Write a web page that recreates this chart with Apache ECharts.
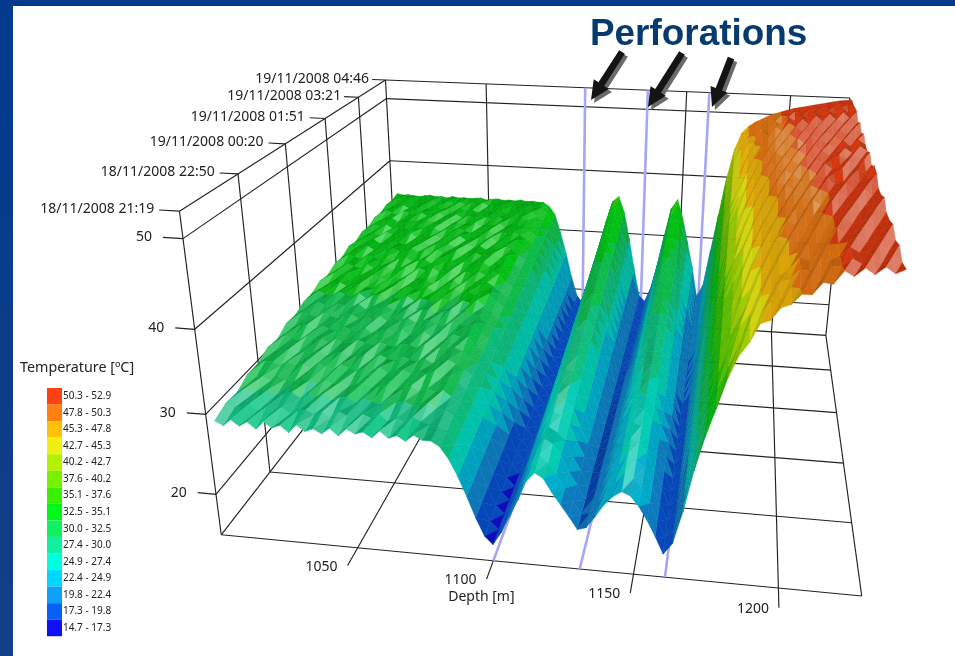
<!DOCTYPE html>
<html><head><meta charset="utf-8">
<style>html,body{margin:0;padding:0;background:#fff}#c{width:955px;height:656px}</style>
<script src="https://cdn.jsdelivr.net/npm/echarts@6/dist/echarts.min.js"></script>
</head><body><div id="c"></div>
<script>
// Axis ticks
const depthTicks=[1050,1100,1150,1200];
const timeLabels=['18/11/2008 21:19','18/11/2008 22:50','19/11/2008 00:20','19/11/2008 01:51','19/11/2008 03:21','19/11/2008 04:46'];
const timeTicks=[0,91,181,272,362,447]; // minutes after the first reading
const tempTicks=[20,30,40,50];
const perforations=[1100,1131,1161];
const depthRange=[998,1228];
const tempRange=[14.7,52.9];
const bandLabels=['14.7 - 17.3','17.3 - 19.8','19.8 - 22.4','22.4 - 24.9','24.9 - 27.4','27.4 - 30.0','30.0 - 32.5','32.5 - 35.1','35.1 - 37.6','37.6 - 40.2','40.2 - 42.7','42.7 - 45.3','45.3 - 47.8','47.8 - 50.3','50.3 - 52.9'];
const bandLimits=[14.7,17.3,19.8,22.4,24.9,27.4,30.0,32.5,35.1,37.6,40.2,42.7,45.3,47.8,50.3,52.9];
const bandColors=['#1010f8','#0860f8','#10a0f8','#00d8ff','#00ffe0','#10f0a0','#10f060','#00f818','#38f000','#78f000','#b4f000','#f0f010','#ffc008','#ff8010','#ff4010'];
// Surface samples, columns along depth (m), rows along time (min).
const depths=[1001,1004,1007,1010,1013,1016,1019,1022,1025,1028,1031,1034,1037,1040,1043,1046,1049,1052,1055,1058,1061,1064,1067,1070,1073,1076,1079,1082,1085,1088,1091,1094,1097,1100,1103,1106,1109,1112,1115,1118,1121,1124,1127,1130,1133,1136,1139,1142,1145,1148,1151,1154,1157,1160,1163,1166,1169,1172,1175,1178,1181,1184,1187,1190,1193,1196,1199,1202,1205,1208,1211,1214,1217,1220,1223,1226,1229];
const times=[0,19,39,58,78,97,117,136,156,175,194,214,233,253,272,292,311,330,350,369,389,408,428,447];
// Temperatures in tenths of a degree: the broad shape is read
// off the outline and colour bands; the fine roughness is a by-eye estimate, not a measurement.
const temp00=[293,288,296,289,295,287,297,290,294,286,296,289,293,288,295,287,296,291,294,288,297,289,293,287,295,290,290,284,270,250,226,200,178,168,184,205,226,250,262,256,240,226,212,197,200,214,230,241,248,244,232,216,197,176,190,230,280,320,353,387,412,427,448,452,466,470,481,481,494,493,507,502,511,505,513,507,512];
const temp01=[299,294,297,301,293,298,295,300,292,297,299,294,298,292,300,296,293,299,295,301,293,297,294,300,296,293,292,286,272,252,227,201,178,168,184,206,229,252,266,258,246,228,213,197,199,214,233,241,254,247,238,218,199,177,191,232,284,321,361,386,410,436,444,460,462,476,475,489,487,500,501,509,504,513,506,514,508];
const temp02=[298,303,297,301,304,298,300,303,296,302,299,304,297,301,303,296,302,299,296,304,300,302,298,300,303,297,295,289,275,254,229,202,179,169,185,208,233,254,270,264,251,231,215,197,199,214,234,245,259,253,243,222,202,178,193,235,287,325,366,391,419,432,452,456,469,473,484,483,496,495,500,510,505,507,514,508,515];
const temp03=[306,302,305,300,307,303,301,305,304,300,306,302,305,300,303,307,301,304,306,300,303,307,301,305,302,305,297,291,277,256,230,203,179,169,185,209,235,252,269,263,254,233,216,197,198,213,235,248,263,258,247,225,204,179,194,236,290,328,370,394,416,440,448,464,465,473,486,484,491,502,503,505,513,506,509,516,510];
const temp04=[306,310,309,305,311,307,309,304,311,308,305,312,308,306,310,307,312,305,309,311,306,310,308,312,305,308,299,293,279,258,232,203,180,169,186,210,237,255,273,268,258,236,217,197,198,213,235,250,266,263,251,228,206,180,195,238,292,332,373,397,425,437,456,459,473,476,481,491,490,497,509,504,506,514,508,510,517];
const temp05=[313,309,311,314,308,312,310,313,308,312,314,309,311,313,308,314,310,308,314,311,309,313,308,312,314,309,302,296,282,260,233,204,180,170,186,212,240,259,278,273,263,239,218,197,197,213,236,253,271,269,256,231,209,181,197,241,295,336,378,402,423,447,452,467,468,483,481,486,499,497,502,513,506,508,516,509,512];
const temp06=[311,316,313,311,317,314,315,311,316,313,312,317,314,312,316,313,311,316,315,312,317,311,315,313,316,312,304,298,284,262,235,205,181,170,187,213,242,262,281,278,267,242,219,196,196,213,237,255,275,273,259,234,211,182,198,243,298,339,381,405,431,442,461,463,477,475,490,488,493,505,503,505,514,509,509,518,511];
const temp07=[319,315,318,320,314,319,316,314,320,317,315,320,314,318,320,316,321,314,317,320,315,319,314,320,317,318,306,300,286,264,236,206,181,170,187,214,244,265,285,282,271,244,220,196,196,213,238,258,279,278,263,237,213,183,199,245,300,342,385,409,428,451,455,472,471,486,483,496,494,498,511,505,508,516,510,512,519];
const temp08=[318,322,320,317,323,320,317,322,324,318,321,319,324,317,322,320,324,318,321,323,319,317,323,320,318,322,309,303,289,266,238,207,182,171,188,216,247,269,290,288,275,247,222,196,195,213,239,261,284,284,268,241,216,184,200,247,303,346,389,413,438,446,465,465,480,480,491,489,502,497,504,514,507,510,518,511,513];
const temp09=[324,321,325,322,320,325,323,321,326,319,324,322,326,320,323,325,320,324,326,321,323,326,320,325,322,320,311,305,291,268,239,208,182,171,188,217,249,272,294,292,279,250,223,196,195,212,240,263,288,288,272,244,218,185,202,249,305,349,393,416,434,456,458,475,474,488,486,498,495,507,503,507,516,508,513,520,512];
const temp10=[324,328,325,323,329,326,324,329,322,327,329,323,326,324,329,323,327,325,323,329,326,323,328,325,330,322,313,307,294,269,241,209,182,171,189,218,251,275,298,296,283,253,224,196,194,212,241,265,292,293,276,247,220,186,203,251,308,352,397,420,445,451,469,467,484,482,494,491,503,499,513,506,509,518,510,514,521];
const temp11=[330,325,328,330,325,328,330,326,324,331,327,329,325,330,328,326,331,325,329,327,331,326,328,324,330,327,316,310,296,272,242,210,183,172,189,219,254,279,303,302,288,256,225,196,193,212,242,268,297,299,281,251,222,188,204,254,311,356,401,424,441,462,464,478,478,492,488,500,497,509,505,510,517,511,516,514,522];
const temp12=[327,331,328,332,326,330,328,332,329,325,331,328,332,326,330,329,325,331,327,331,326,332,329,327,331,326,318,312,299,273,244,210,183,172,190,221,256,282,307,306,291,258,227,196,193,212,242,271,300,303,285,253,225,188,206,256,314,360,405,427,451,456,474,473,489,485,499,493,506,501,514,508,513,519,512,521,515];
const temp13=[333,329,334,331,328,335,330,333,334,329,332,335,328,334,331,335,330,332,335,329,333,331,334,329,335,332,321,315,301,276,245,211,184,173,190,222,259,286,312,312,296,261,228,196,192,212,243,274,305,309,290,257,227,190,207,258,317,364,409,431,447,467,468,483,481,495,490,503,499,511,506,511,518,513,521,515,523];
const temp14=[332,336,334,331,337,335,332,336,331,335,337,332,334,336,331,337,333,335,332,336,334,333,337,331,335,334,323,317,304,277,247,212,184,173,191,223,261,289,316,316,300,264,229,196,191,211,244,276,309,314,294,260,229,191,208,260,320,367,413,435,458,461,479,477,491,488,501,496,508,503,516,509,514,520,514,523,517];
const temp15=[338,335,337,340,334,338,336,339,335,337,340,335,339,334,340,336,335,341,334,338,339,335,337,341,334,339,325,319,306,279,248,213,185,173,191,225,263,292,320,321,304,267,230,196,191,211,245,278,313,318,298,263,231,192,210,262,322,370,417,438,452,472,472,487,484,497,493,506,500,513,507,516,511,522,515,524,518];
const temp16=[335,339,336,340,334,337,339,336,334,339,337,340,335,338,336,340,335,337,341,336,339,334,338,336,340,337,328,322,309,282,250,214,185,174,192,226,266,296,325,326,309,270,232,196,190,211,246,281,318,324,303,267,234,193,211,265,325,374,421,443,464,466,483,480,496,490,503,499,509,505,517,510,520,513,524,517,525];
const temp17=[340,337,339,336,342,338,340,337,342,336,339,338,341,336,340,338,342,336,339,341,338,342,336,340,338,341,330,324,311,283,251,215,185,174,192,227,268,299,329,330,312,272,233,196,190,211,247,284,322,329,307,270,236,194,212,267,327,377,425,446,458,477,476,491,488,500,495,508,502,514,509,519,512,523,516,526,519];
const temp18=[338,342,339,343,337,341,340,337,343,340,338,342,337,341,339,343,340,337,342,340,343,338,341,339,342,338,332,326,313,285,253,216,186,174,193,228,270,302,332,335,316,275,234,195,189,211,248,286,326,333,310,273,238,195,213,269,330,380,428,449,470,471,486,485,498,493,506,500,512,506,519,512,522,515,525,518,526];
const temp19=[343,339,341,344,338,341,343,340,338,344,340,342,344,339,343,339,341,344,338,342,340,344,339,341,343,340,335,329,316,287,254,217,186,175,193,230,273,306,337,340,321,278,235,195,188,211,249,289,331,339,315,276,241,196,215,272,333,384,433,454,464,481,480,494,491,503,497,511,504,516,510,521,514,524,518,527,520];
const temp20=[341,345,342,339,346,343,341,345,340,344,346,341,343,345,340,344,342,346,343,340,345,342,343,340,346,342,337,331,318,289,256,217,187,175,194,231,275,309,341,345,325,281,236,195,188,210,249,291,334,344,319,279,243,197,216,274,335,388,436,457,474,477,490,489,501,496,508,503,514,507,520,513,523,516,526,519,528];
const temp21=[345,342,343,346,341,344,345,342,340,346,343,345,341,346,342,344,340,346,343,342,346,341,345,343,342,346,339,333,320,291,257,218,187,175,194,232,277,312,345,349,328,283,238,195,187,210,250,294,338,349,323,282,245,198,217,276,338,391,440,460,478,480,493,491,503,499,510,505,513,509,518,514,522,517,527,520,527];
const temp22=[343,346,344,347,342,345,344,346,342,345,347,343,346,342,346,344,347,342,345,344,347,343,345,344,346,344,342,336,323,293,259,219,188,176,195,234,280,316,350,355,333,286,239,195,187,210,251,297,343,354,328,286,248,199,219,278,340,395,444,465,480,485,490,495,499,505,504,511,510,512,517,516,521,520,526,524,525];
const temp23=[346,344,345,344,343,345,346,344,345,343,346,344,345,344,345,346,343,345,346,344,345,344,346,344,345,344,344,338,325,295,260,220,188,176,195,235,280,320,352,360,335,290,240,195,186,210,250,300,345,360,330,290,250,200,220,280,340,400,445,470,480,487,492,497,501,504,507,510,512,514,516,518,520,522,524,525,526];
const tempRows=[temp00,temp01,temp02,temp03,temp04,temp05,temp06,temp07,temp08,temp09,temp10,temp11,temp12,temp13,temp14,temp15,temp16,temp17,temp18,temp19,temp20,temp21,temp22,temp23];

const FONT='"Noto Sans"',INK='#222';
const D0=depthRange[0],D1=depthRange[1],Z0=tempRange[0],Z1=tempRange[1],T1=timeTicks[5];

// Camera: a projective map from (depth,time,temperature) to the page, fitted to where the box sits.
const view=[[D0,0,Z0,222,534],[D1,0,Z0,863,596],[D0,T1,Z0,399,312],[D1,T1,Z0,826,334],[D0,0,Z1,180,213],[D0,T1,Z1,386,79],[D1,T1,Z1,852,100],
[D0,91,Z0,268,472],[D0,91,Z1,238,175],[D0,181,Z1,286,143],[D0,272,Z1,325,118],[D0,362,Z1,360,97],
[D1,91,Z0,853,523],[D1,181,Z0,844,463],[D1,272,Z0,837,412],[D1,362,Z0,830,369],
[1050,0,Z0,357,547],[1100,0,Z0,492,561],[1150,0,Z0,633,574],[1200,0,Z0,778,588],
[1050,T1,Z1,485,83],[1100,T1,Z1,583,87.5],[1150,T1,Z1,686,92],[1200,T1,Z1,790,97],
[D0,0,20,217,493],[D0,0,30,206,414],[D0,0,40,193,330],[D0,0,50,183,240],[D0,T1,50,387,97],[D0,T1,40,390,159],[D1,T1,20,828,305]];
const nd=d=>(d-1100)/100, nt=t=>(t-220)/220, nz=z=>(z-34)/20;
function fit(){
  const n=11,A=[];for(let i=0;i<n;i++){A.push(new Array(n+1).fill(0));}
  const add=(r,b)=>{for(let i=0;i<n;i++){for(let j=0;j<n;j++)A[i][j]+=r[i]*r[j];A[i][n]+=r[i]*b;}};
  view.forEach(v=>{const X=nd(v[0]),Y=nt(v[1]),Z=nz(v[2]),u=v[3]/500,w=v[4]/500;
    add([X,Y,Z,1,0,0,0,0,-u*X,-u*Y,-u*Z],u);add([0,0,0,0,X,Y,Z,1,-w*X,-w*Y,-w*Z],w);});
  for(let i=0;i<n;i++){let p=i;for(let r=i+1;r<n;r++)if(Math.abs(A[r][i])>Math.abs(A[p][i]))p=r;
    [A[i],A[p]]=[A[p],A[i]];for(let r=0;r<n;r++){if(r===i)continue;const f=A[r][i]/A[i][i];for(let c=i;c<=n;c++)A[r][c]-=f*A[i][c];}}
  return A.map((r,i)=>r[n]/r[i]);
}
const M=fit();
function proj(d,t,z){const X=nd(d),Y=nt(t),Z=nz(z),w=M[8]*X+M[9]*Y+M[10]*Z+1;
  return [500*(M[0]*X+M[1]*Y+M[2]*Z+M[3])/w,500*(M[4]*X+M[5]*Y+M[6]*Z+M[7])/w,w];}

// Box, grid and tick lines: [d1,t1,z1,d2,t2,z2]
const frameLines=[];
const seg=(a,b,c,e,f,g)=>frameLines.push([a,b,c,e,f,g]);
timeTicks.forEach(t=>{seg(D0,t,Z0,D0,t,Z1);seg(D0,t,Z0,D1,t,Z0);seg(D0-7,t,Z1,D0,t,Z1);});
tempTicks.concat([Z1]).forEach(z=>{seg(D0,0,z,D0,T1,z);seg(D0,T1,z,D1,T1,z);});
tempTicks.forEach(z=>seg(D0-7,0,z,D0,0,z));
depthTicks.forEach(d=>{seg(d,-22,Z0,d,T1,Z0);seg(d,T1,Z0,d,T1,Z1);});
seg(D0,0,Z0,D0,T1,Z0);seg(D1,0,Z0,D1,T1,Z0);seg(D1,T1,Z0,D1,T1,Z1);
const perfLines=[];
perforations.forEach(d=>{perfLines.push([d,0,Z0,d,T1,Z0]);perfLines.push([d,T1,Z0,d,T1,Z1]);});

const lineItem=(style)=>(params,api)=>{
  const a=proj(api.value(0),api.value(1),api.value(2)),b=proj(api.value(3),api.value(4),api.value(5));
  const p=api.coord([a[0],a[1]]),q=api.coord([b[0],b[1]]);
  return {type:'line',shape:{x1:p[0],y1:p[1],x2:q[0],y2:q[1]},style};
};

// Tick labels: text, anchor and where it sits relative to the tick's outer end
const labelItems=[];
timeTicks.forEach((t,i)=>labelItems.push({text:timeLabels[i],at:[D0-7,t,Z1],dx:i>3?-3:-5,dy:-1}));
tempTicks.forEach(z=>labelItems.push({text:String(z),at:[D0-7,0,z],dx:-11,dy:0}));
depthTicks.forEach(d=>labelItems.push({text:String(d),at:[d,-22,Z0],dx:-10,dy:1}));
labelItems.push({text:'Depth [m]',at:[1100,-22,Z0],dx:28,dy:18});

// Surface triangles, painted farthest first
const nCol=Math.min(...tempRows.map(r=>r.length)),cells=[];
const zOf=(j,i)=>Math.min(Z1,Math.max(Z0,tempRows[j][i]/10));
for(let j=0;j<times.length-1;j++)for(let i=0;i<nCol-1;i++){
  const A=[i,j],B=[i+1,j],C=[i+1,j+1],E=[i,j+1];
  [[A,B,C],[A,C,E]].forEach(tri=>{
    const ps=tri.map(q=>[depths[q[0]],times[q[1]],zOf(q[1],q[0])]);
    const zm=(ps[0][2]+ps[1][2]+ps[2][2])/3;
    const w=ps.reduce((s,p)=>s+proj(p[0],p[1],p[2])[2],0);
    cells.push({v:[tri[0][0],tri[0][1],tri[1][0],tri[1][1],tri[2][0],tri[2][1],+zm.toFixed(2)],w});
  });
}
const sign=proj(1100,220,30)[2]>0?1:-1;
cells.sort((a,b)=>sign*(b.w-a.w));

function shade(ps,hex){
  const S=[2.6,0.55,5];
  const a=[(ps[1][0]-ps[0][0])*S[0],(ps[1][1]-ps[0][1])*S[1],(ps[1][2]-ps[0][2])*S[2]];
  const b=[(ps[2][0]-ps[0][0])*S[0],(ps[2][1]-ps[0][1])*S[1],(ps[2][2]-ps[0][2])*S[2]];
  let n=[a[1]*b[2]-a[2]*b[1],a[2]*b[0]-a[0]*b[2],a[0]*b[1]-a[1]*b[0]];
  const L=Math.hypot(n[0],n[1],n[2])||1;n=n.map(x=>x/L);if(n[2]<0)n=n.map(x=>-x);
  const l=[-0.25,-0.62,0.74],h=[0.34,-0.3,0.89];
  const dif=Math.max(0,n[0]*l[0]+n[1]*l[1]+n[2]*l[2]);
  const sp=Math.pow(Math.max(0,n[0]*h[0]+n[1]*h[1]+n[2]*h[2]),70)*0.4;
  const c=echarts.color.parse(hex);
  const warm=(c[0]/255)*(1-c[2]/255);
  const k=0.26+0.5*dif+(n[0]>0?n[0]*(0.45-0.3*warm):-n[0]*0.15)+0.1*warm;
  const mix=x=>Math.round(Math.min(255,x*k+(255-x*k)*sp));
  return 'rgb('+mix(c[0])+','+mix(c[1])+','+mix(c[2])+')';
}

function arrow(x0,y0,x1,y1,dx,dy,fill){
  const L=Math.hypot(x1-x0,y1-y0),u=(x1-x0)/L,v=(y1-y0)/L,s=3.4,hw=9,hl=19;
  const bx=x1-u*hl,by=y1-v*hl;
  const pts=[[x0-v*s,y0+u*s],[bx-v*s,by+u*s],[bx-v*hw,by+u*hw],[x1,y1],[bx+v*hw,by-u*hw],[bx+v*s,by-u*s],[x0+v*s,y0-u*s]];
  return {type:'polygon',z:50,silent:true,shape:{points:pts.map(p=>[p[0]+dx,p[1]+dy])},style:{fill}};
}
const arrowEnds=[[622,52,591,100],[682,53,648,107],[731,58,712,107]];
const arrows=[];
arrowEnds.forEach(e=>arrows.push(arrow(e[0],e[1],e[2],e[3],3,3,'#6a6a6a')));
arrowEnds.forEach(e=>arrows.push(arrow(e[0],e[1],e[2],e[3],0,0,'#141414')));

const chart=echarts.init(document.getElementById('c'),null,{renderer:'canvas',width:955,height:656});
chart.setOption({
  animation:false,backgroundColor:'#fff',
  title:[
    {text:'Perforations',left:590,top:16,padding:0,textStyle:{fontFamily:'"Liberation Sans"',fontWeight:'bold',fontSize:36.9,color:'#073a6e'}},
    {text:'Temperature [ºC]',left:20,top:361,padding:0,textStyle:{fontFamily:FONT,fontWeight:'normal',fontSize:14.3,color:INK}}
  ],
  grid:{left:0,right:0,top:0,bottom:0},
  xAxis:{type:'value',min:0,max:955,show:false},
  yAxis:{type:'value',min:0,max:656,inverse:true,show:false},
  visualMap:{type:'piecewise',seriesIndex:3,dimension:6,left:47,top:388,padding:0,orient:'vertical',itemWidth:15,itemHeight:16.55,itemGap:0,textGap:1,
    itemSymbol:'rect',hoverLink:false,selectedMode:false,textStyle:{fontFamily:FONT,fontSize:10,color:INK},
    pieces:bandLabels.map((label,i)=>({min:bandLimits[i],max:bandLimits[i+1],label,color:bandColors[i]}))},
  graphic:[
    {type:'rect',z:40,silent:true,shape:{x:0,y:0,width:955,height:6},style:{fill:'#033a8c'}},
    {type:'rect',z:40,silent:true,shape:{x:0,y:0,width:13,height:656},style:{fill:{type:'linear',x:0,y:0,x2:0,y2:1,colorStops:[{offset:0,color:'#033a8c'},{offset:1,color:'#123f88'}]}}}
  ].concat(arrows),
  series:[
    {type:'custom',coordinateSystem:'cartesian2d',silent:true,progressive:0,z:2,data:frameLines,encode:{x:0,y:1},renderItem:lineItem({stroke:INK,lineWidth:1.15})},
    {type:'custom',coordinateSystem:'cartesian2d',silent:true,progressive:0,z:3,data:perfLines,encode:{x:0,y:1},renderItem:lineItem({stroke:'#a6a6f2',lineWidth:2.6})},
    {type:'custom',coordinateSystem:'cartesian2d',silent:true,progressive:0,z:3,data:labelItems.map(l=>l.at),encode:{x:0,y:1},renderItem:(params,api)=>{
      const l=labelItems[params.dataIndex],a=proj(api.value(0),api.value(1),api.value(2)),p=api.coord([a[0],a[1]]);
      return {type:'text',style:{text:l.text,x:p[0]+l.dx,y:p[1]+l.dy,textAlign:'right',textVerticalAlign:'middle',fontFamily:FONT,fontSize:14,fill:INK}};
    }},
    {type:'custom',coordinateSystem:'cartesian2d',silent:true,progressive:0,z:4,data:cells.map(c=>c.v),encode:{x:0,y:1},renderItem:(params,api)=>{
      const ps=[0,2,4].map(k=>{const i=api.value(k),j=api.value(k+1);return [depths[i],times[j],zOf(j,i)];});
      const pts=ps.map(p=>{const q=proj(p[0],p[1],p[2]);return api.coord([q[0],q[1]]);});
      const col=shade(ps,api.visual('color'));
      return {type:'polygon',shape:{points:pts},style:{fill:col,stroke:col,lineWidth:0.5}};
    }}
  ]
});
</script></body></html>
